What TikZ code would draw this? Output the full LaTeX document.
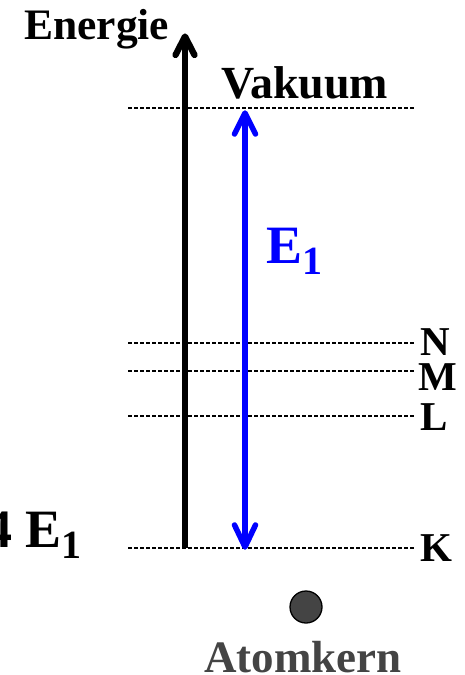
\documentclass[tikz,border=0pt]{standalone}
\usepackage{fontspec}
\setmainfont{Liberation Serif}
\definecolor{nucgray}{HTML}{444444}
\definecolor{eblue}{HTML}{0000FF}
\tikzset{
  level/.style={black, line width=1.3pt, dash pattern=on 4pt off 2pt},
  lbl/.style={inner sep=0pt, font=\fontsize{41}{41}\selectfont\bfseries},
  big/.style={inner sep=0pt, font=\fontsize{44}{44}\selectfont\bfseries},
  chev/.style={line cap=round, line join=round},
}
\begin{document}
\begin{tikzpicture}[x=1pt,y=-1pt]
\useasboundingbox (0,0) rectangle (465,675);
\clip (0,0) rectangle (465,675);
% level endpoints
\coordinate (vl) at (128,108); \coordinate (vr) at (415,108);
\coordinate (nl) at (128,343); \coordinate (nr) at (415,343);
\coordinate (ml) at (128,371); \coordinate (mr) at (415,371);
\coordinate (ll) at (128,416); \coordinate (lr) at (415,416);
\coordinate (kl) at (128,548); \coordinate (kr) at (415,548);
\draw[level] (vl) -- (vr);
\draw[level] (nl) -- (nr);
\draw[level] (ml) -- (mr);
\draw[level] (ll) -- (lr);
\draw[level] (kl) -- (kr);
% energy axis
\coordinate (ab) at (185,548); \coordinate (at) at (185,36.5);
\draw[line width=6.3pt] (ab) -- (at);
\draw[line width=6.3pt, chev] ([shift={(-9.5,18.5)}]at) -- (at) -- ([shift={(9.5,18.5)}]at);
% E1 arrow
\coordinate (bt) at (245,113); \coordinate (bb) at (245,547);
\draw[eblue, line width=5.5pt] (bt) -- (bb);
\draw[eblue, line width=5.5pt, chev] ([shift={(-10.5,21)}]bt) -- (bt) -- ([shift={(10.5,21)}]bt);
\draw[eblue, line width=5.5pt, chev] ([shift={(-10.5,-22)}]bb) -- (bb) -- ([shift={(10.5,-22)}]bb);
% labels
\node[big, anchor=base west, font=\fontsize{43.5}{44}\selectfont\bfseries] (energie) at (24,39) {Energie};
\node[big, anchor=base west, font=\fontsize{46}{46}\selectfont\bfseries] (vak) at (221,98) {Vakuum};
\node[inner sep=0pt, anchor=base west, text=eblue, font=\fontsize{54}{54}\selectfont\bfseries] (e1) at (266,263) {E\raisebox{-0.22em}{\fontsize{40}{40}\selectfont 1}};
\node[lbl, anchor=base west] (N) at (420,355) {N};
\node[lbl, anchor=base west] (M) at (418,390) {M};
\node[lbl, anchor=base west] (L) at (420,430) {L};
\node[lbl, anchor=base west] (K) at (420,561) {K};
\node[inner sep=0pt, anchor=base east, font=\fontsize{54}{54}\selectfont\bfseries] (fe) at (82,547) {4 E\raisebox{-0.22em}{\fontsize{40}{40}\selectfont 1}};
% nucleus
\node[circle, fill=nucgray, draw=black, line width=1.3pt, minimum size=32pt, inner sep=0pt] (nuc) at (306,607) {};
\node[big, anchor=base west, text=nucgray, font=\fontsize{45}{45}\selectfont\bfseries] (atom) at (204,672) {Atomkern};
\end{tikzpicture}
\end{document}
